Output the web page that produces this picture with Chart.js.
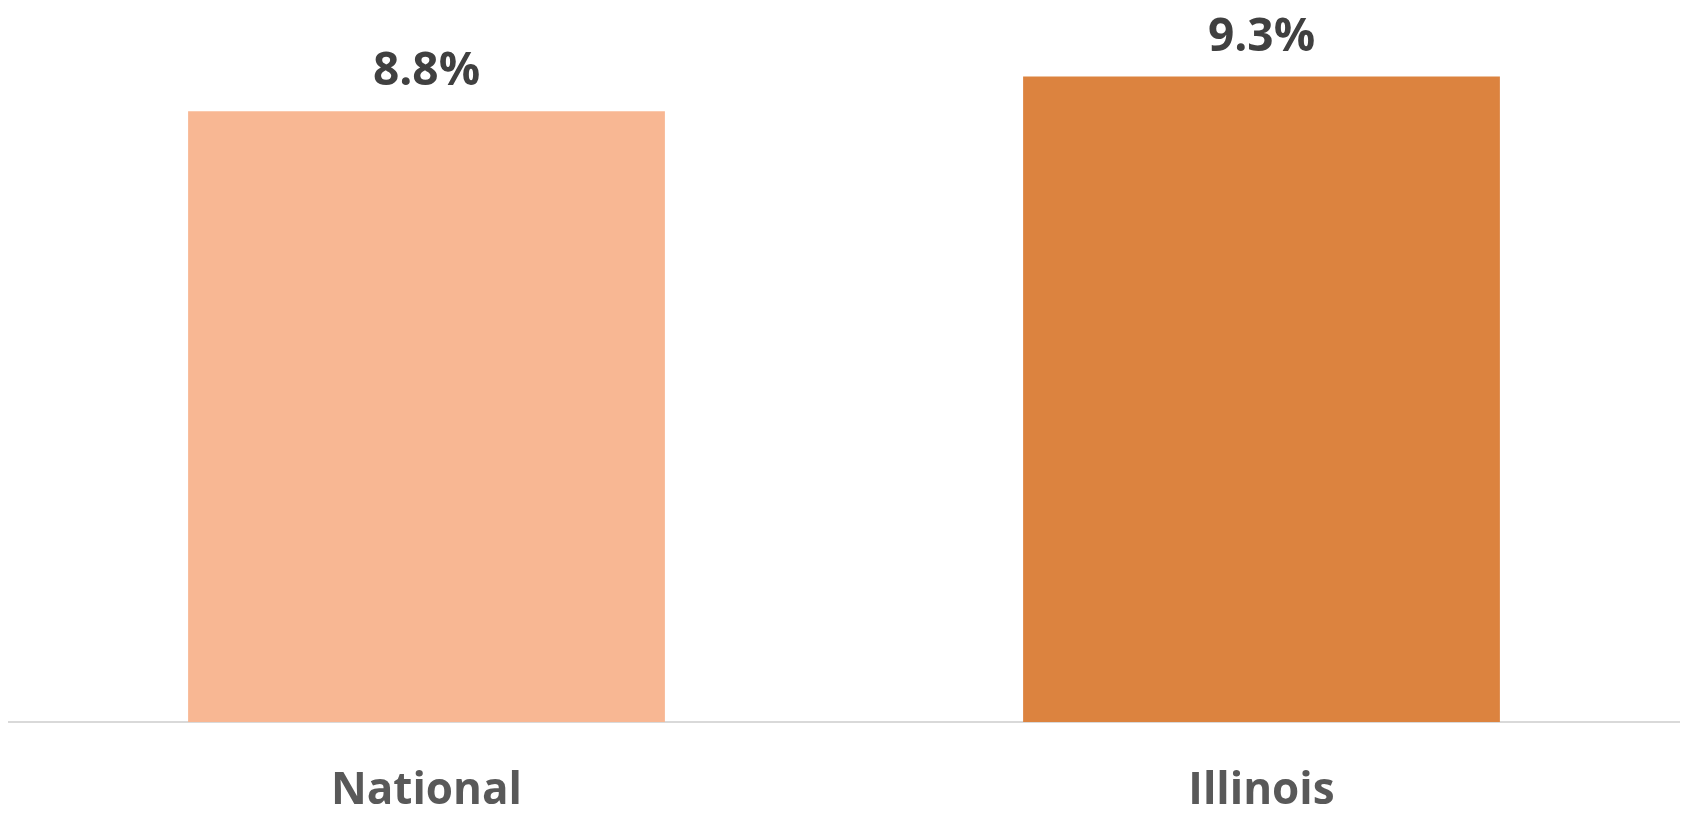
<!DOCTYPE html>
<html>
<head>
<meta charset="utf-8">
<script src="https://cdn.jsdelivr.net/npm/chart.js@4/dist/chart.umd.min.js"></script>
<style>
    html, body { margin: 0; padding: 0; background: #ffffff; }
    #wrap { width: 1683px; height: 813px; }
</style>
</head>
<body>
<div id="wrap"><canvas id="barChart"></canvas></div>
<script>
const categories = ['National', 'Illinois'];
const rates = [8.8, 9.3];
const barColors = ['#F8B793', '#DC833F'];

// draws the value above each bar
const valueLabels = {
    id: 'valueLabels',
    afterDatasetsDraw(chart) {
        const ctx = chart.ctx;
        const meta = chart.getDatasetMeta(0);
        ctx.save();
        ctx.font = 'bold 46px "Open Sans"';
        ctx.fillStyle = '#404040';
        ctx.textAlign = 'center';
        ctx.textBaseline = 'middle';
        meta.data.forEach((bar, i) => {
            ctx.fillText(rates[i].toFixed(1) + '%', bar.x, bar.y - 39);
        });
        ctx.restore();
    },
};

new Chart(document.getElementById('barChart').getContext('2d'), {
    type: 'bar',
    data: {
        labels: categories,
        datasets: [
            {
                data: rates,
                backgroundColor: barColors,
                borderWidth: 0,
                categoryPercentage: 1,
                barPercentage: 0.571,
            },
        ],
    },
    options: {
        responsive: true,
        maintainAspectRatio: false,
        animation: false,
        layout: {
            padding: { left: 9, right: 4, top: 28, bottom: 0 },
        },
        scales: {
            x: {
                grid: { display: false, drawTicks: true, tickLength: 47 },
                border: { display: true, color: '#D9D9D9', width: 2 },
                ticks: {
                    padding: 0,
                    color: '#595959',
                    font: { family: '"Open Sans"', size: 44, weight: 'bold', lineHeight: 1 },
                },
            },
            y: {
                display: false,
                min: 0,
                max: 10,
            },
        },
        plugins: {
            legend: { display: false },
            tooltip: { enabled: false },
        },
    },
    plugins: [valueLabels],
});
</script>
</body>
</html>
